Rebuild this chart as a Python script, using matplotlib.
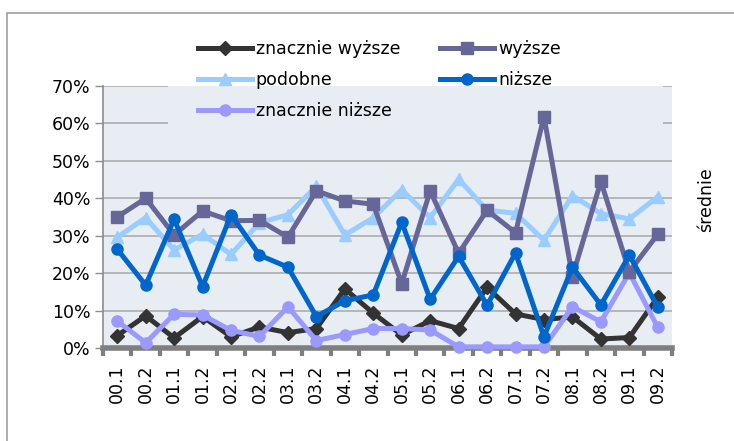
import matplotlib
matplotlib.use("Agg")
import matplotlib.pyplot as plt
from matplotlib.patches import Rectangle
import numpy as np

# Categories (half-years)
categories = ["00.1", "00.2", "01.1", "01.2", "02.1", "02.2", "03.1", "03.2", "04.1", "04.2",
              "05.1", "05.2", "06.1", "06.2", "07.1", "07.2", "08.1", "08.2", "09.1", "09.2"]

# Series values (%)
znacznie_wyzsze = [3.3, 8.6, 2.7, 8.4, 3.0, 5.6, 4.1, 5.2, 15.8, 9.3,
                   3.5, 7.3, 5.2, 16.2, 9.1, 7.6, 8.3, 2.4, 2.8, 13.6]
wyzsze = [35.0, 40.0, 30.2, 36.6, 34.0, 34.1, 29.6, 42.0, 39.3, 38.4,
          17.2, 42.0, 25.3, 36.8, 30.8, 61.8, 19.1, 44.5, 20.4, 30.4]
podobne = [29.6, 34.8, 26.2, 30.4, 25.0, 33.5, 35.6, 43.2, 30.2, 34.8,
           42.3, 34.8, 45.1, 36.8, 36.0, 28.8, 40.7, 35.9, 34.5, 40.4]
nizsze = [26.4, 16.8, 34.4, 16.4, 35.6, 24.8, 21.6, 8.4, 12.6, 14.2,
          33.6, 13.0, 24.5, 11.4, 25.4, 3.0, 21.6, 11.5, 24.8, 10.9]
znacznie_nizsze = [7.2, 1.4, 9.0, 8.8, 4.7, 3.1, 11.0, 2.0, 3.6, 5.2,
                   5.2, 4.8, 0.3, 0.3, 0.3, 0.3, 11.0, 7.0, 20.1, 5.5]

yticks = [0, 10, 20, 30, 40, 50, 60, 70]

bg = "#E8ECF3"
grid_col = "#A8A8A8"

fig = plt.figure(figsize=(7.34, 4.41), dpi=100)
ax = fig.add_axes([103 / 734, 1 - 348 / 441, 569 / 734, 262 / 441])
ax.set_facecolor(bg)

x = np.arange(len(categories))

series = [
    (znacznie_wyzsze, "znacznie wyższe", "#333333", "D", 7),
    (podobne, "podobne", "#99CCFF", "^", 8),
    (znacznie_nizsze, "znacznie niższe", "#9999FF", "o", 8),
    (wyzsze, "wyższe", "#666699", "s", 8),
    (nizsze, "niższe", "#0066CC", "o", 8),
]
# draw in original stacking order
draw_order = [1, 3, 4, 0, 2]
handles = {}
for i in draw_order:
    vals, name, col, mk, ms = series[i]
    h, = ax.plot(x, vals, color=col, lw=3.6, marker=mk, markersize=ms,
                 markeredgecolor=col, label=name, zorder=3 + i * 0.1, clip_on=False)
    handles[i] = h

ax.set_xlim(-0.5, len(categories) - 0.5)
ax.set_ylim(0, 70)
ax.set_yticks(yticks)
ax.set_yticklabels([f"{t}%" for t in yticks], fontsize=12.5)
ax.set_axisbelow(True)
ax.yaxis.grid(True, color=grid_col, lw=1.1)
ax.xaxis.grid(False)

ax.set_xticks(x)
ax.set_xticklabels(categories, rotation=90, fontsize=12.5)
ax.tick_params(axis="x", length=0, pad=12)
ax.set_xticks(np.arange(-0.5, len(categories)), minor=True)
ax.tick_params(axis="x", which="minor", length=6, width=3, color="#7F7F7F", direction="out")
ax.tick_params(axis="y", length=6, width=1, color="#8C8C8C", direction="out", pad=3)

for s in ["top", "right"]:
    ax.spines[s].set_visible(False)
ax.spines["left"].set_color("#8C8C8C")
ax.spines["left"].set_linewidth(1.2)
ax.spines["bottom"].set_color("#7F7F7F")
ax.spines["bottom"].set_linewidth(4)

# legend area hides gridlines behind it
ax.add_patch(Rectangle((0.114, 0.84), 0.87, 0.2, transform=ax.transAxes,
                       facecolor=bg, edgecolor="none", zorder=1, clip_on=False))
ax.add_patch(Rectangle((0.114, 1.0), 0.87, 0.25, transform=ax.transAxes,
                       facecolor="white", edgecolor="none", zorder=1, clip_on=False))

leg = fig.legend([handles[i] for i in range(5)], [series[i][1] for i in range(5)],
                 loc="upper left", bbox_to_anchor=(189 / 734, 1 - 31 / 441), ncol=2,
                 frameon=False, fontsize=12.5, handlelength=3.1, handletextpad=0.25,
                 columnspacing=2.3, labelspacing=0.75, borderpad=0)

fig.text(706 / 734, 1 - 200 / 441, "średnie", rotation=90, fontsize=12.5,
         ha="center", va="center")

# chart border
fig.patches.append(Rectangle((7 / 734, -0.1), 1.2, 1 - 13 / 441 + 0.1, transform=fig.transFigure,
                             facecolor="none", edgecolor="#A0A0A0", lw=1.2))

fig.savefig("out.png", dpi=100)
